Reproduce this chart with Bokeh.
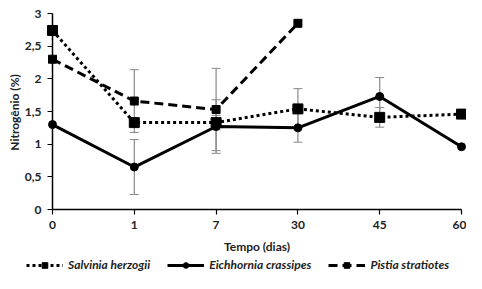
import math
from bokeh.plotting import figure
from bokeh.models import Range1d, FixedTicker, Whisker, ColumnDataSource, Legend, LegendItem
from bokeh.core.properties import value
from bokeh.embed import file_html
from bokeh.resources import INLINE

days = ["0", "1", "7", "30", "45", "60"]
salvinia = [2.74, 1.33, 1.33, 1.54, 1.41, 1.46]
salvinia_err = [0.0, 0.0, 0.11, 0.31, 0.15, 0.0]
eichhornia = [1.30, 0.65, 1.27, 1.25, 1.73, 0.96]
eichhornia_err = [0.0, 0.42, 0.41, 0.22, 0.29, 0.0]
pistia = [2.30, 1.66, 1.53, 2.85]
pistia_err = [0.0, 0.48, 0.63, 0.0]
yticks = [0, 0.5, 1, 1.5, 2, 2.5, 3]
ylabels = ["0", "0,5", "1", "1,5", "2", "2,5", "3"]
series_names = ["Salvinia herzogii", "Eichhornia crassipes", "Pistia stratiotes"]
x_title = "Tempo (dias)"
y_title = "Nitrogênio (%)"

FONT = "Lato"
STYLES = [
    dict(dash="3 3", marker="square", size=10),
    dict(dash="solid", marker="circle", size=8),
    dict(dash="9 5", marker="square", size=8),
]

# layout geometry (pixels on the canvas)
W, H = 466, 273
X_FIRST, X_LAST = 52, 461      # canvas x of first / last category
Y_ZERO, Y_TOP = 209, 13        # canvas y of value 0 / value 3
n = len(days) - 1
xs_px = (X_LAST - X_FIRST) / n
ys_px = (Y_ZERO - Y_TOP) / yticks[-1]

p = figure(width=W, height=H, output_backend="svg", toolbar_location=None,
           x_range=Range1d(-X_FIRST / xs_px, (W - X_FIRST) / xs_px),
           y_range=Range1d((Y_ZERO - H) / ys_px, Y_ZERO / ys_px),
           min_border_left=0, min_border_right=0, min_border_top=0, min_border_bottom=0)
p.grid.visible = False
p.outline_line_color = None

def add_err(vals, errs):
    xs = list(range(len(vals)))
    idx = [i for i in xs if errs[i] > 0]
    src = ColumnDataSource(dict(x=[xs[i] for i in idx],
                                lo=[vals[i] - errs[i] for i in idx],
                                hi=[vals[i] + errs[i] for i in idx]))
    w = Whisker(base="x", lower="lo", upper="hi", source=src,
                line_color="#888888", line_width=1.2)
    w.upper_head.line_color = "#888888"
    w.lower_head.line_color = "#888888"
    w.upper_head.size = 9
    w.lower_head.size = 9
    p.add_layout(w)

add_err(salvinia, salvinia_err)
add_err(eichhornia, eichhornia_err)
add_err(pistia, pistia_err)

renderers = []
for vals, st in zip([salvinia, eichhornia, pistia], STYLES):
    xs = list(range(len(vals)))
    lr = p.line(xs, vals, line_color="black", line_width=3, line_dash=st["dash"])
    mr = p.scatter(xs, vals, marker=st["marker"], size=st["size"], color="black")
    renderers.append([lr, mr])

p.xaxis.ticker = FixedTicker(ticks=list(range(len(days))))
p.xaxis.major_label_overrides = {i: d for i, d in enumerate(days)}
p.xaxis.fixed_location = 0
p.xaxis.bounds = (0, n)
p.yaxis.ticker = FixedTicker(ticks=yticks)
p.yaxis.major_label_overrides = {t: l for t, l in zip(yticks, ylabels)}
p.yaxis.fixed_location = 0
p.yaxis.bounds = (yticks[0], yticks[-1])

for ax in (p.xaxis[0], p.yaxis[0]):
    ax.axis_line_color = "black"
    ax.axis_line_width = 1.5
    ax.major_tick_line_color = "black"
    ax.major_tick_line_width = 1.2
    ax.major_tick_in = 0
    ax.major_tick_out = 5
    ax.minor_tick_line_color = None
    ax.major_label_standoff = 6
    ax.major_label_text_font = FONT
    ax.major_label_text_font_size = "12px"
    ax.major_label_text_font_style = "bold"
    ax.major_label_text_color = "#222222"

# axis titles
p.text(x=[n / 2], y=[-(246 - Y_ZERO) / ys_px], text=[x_title],
       text_font=value(FONT), text_font_size="12px", text_font_style="bold",
       text_color="#222222", text_align="center", text_baseline="middle")
p.text(x=[(14 - X_FIRST) / xs_px], y=[(Y_ZERO - 112) / ys_px], text=[y_title],
       angle=math.pi / 2,
       text_font=value(FONT), text_font_size="12px", text_font_style="bold",
       text_color="#222222", text_align="center", text_baseline="middle")

legend = Legend(items=[LegendItem(label=nm, renderers=r) for nm, r in zip(series_names, renderers)],
                orientation="horizontal", location=(26, 1))
legend.label_text_font = FONT
legend.label_text_font_size = "12px"
legend.label_text_font_style = "bold italic"
legend.label_text_color = "#222222"
legend.border_line_color = None
legend.background_fill_alpha = 0
legend.glyph_width = 37
legend.glyph_height = 14
legend.label_height = 14
legend.spacing = 17
legend.margin = 0
legend.padding = 0
p.add_layout(legend, "center")

open("out.html", "w").write(file_html(p, INLINE))
